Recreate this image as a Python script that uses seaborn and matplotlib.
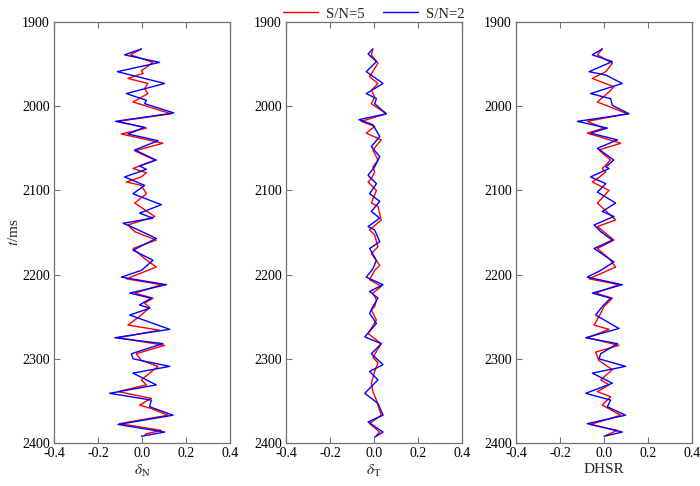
import numpy as np
import pandas as pd
import matplotlib
matplotlib.use("Agg")
import matplotlib.pyplot as plt
import seaborn as sns

# ---- data -------------------------------------------------------------
dn_b_t = [1932,1939,1948,1959,1973,1985,1993,1997,2008,2018,2025,2033,2041,2052,2064,2071,2075,2084,
          2094,2104,2117,2127,2133,2139,2145,2157,2171,2183,2195,2203,2212,2222,2228,2236,2240,
          2248,2265,2275,2282,2294,2300,2309,2317,2331,2341,2349,2357,2367,2378,2387,2392]
dn_b_v = [-0.003,-0.079,0.080,-0.112,0.103,-0.071,0.020,0.012,0.145,-0.121,0.012,-0.064,0.073,-0.033,0.065,-0.011,0.020,-0.079,
          0.012,-0.041,0.088,-0.011,0.050,-0.086,-0.033,0.065,-0.041,0.050,-0.003,-0.094,0.111,-0.056,0.042,-0.011,0.035,
          -0.056,0.126,-0.124,0.095,-0.048,-0.041,0.126,-0.041,0.065,-0.147,0.042,0.035,0.141,-0.109,0.103,-0.003]
dn_r_t = [1932,1939,1948,1958,1961,1967,1973,1979,1985,1995,2009,2018,2026,2033,2044,2053,2064,2074,2079,2084,
          2090,2094,2104,2115,2131,2141,2149,2159,2169,2181,2191,2205,2212,2222,2228,2234,2239,
          2248,2260,2266,2275,2284,2294,2302,2309,2325,2331,2339,2347,2355,2359,2367,2377,2385,2389,2391]
dn_r_v = [-0.003,-0.052,0.050,-0.003,0.005,-0.064,0.027,0.012,0.027,-0.041,0.133,-0.109,0.020,-0.094,0.095,-0.033,0.058,-0.041,0.020,-0.003,
          -0.071,-0.003,0.020,-0.033,0.058,-0.064,-0.033,0.065,-0.041,0.012,0.065,-0.071,0.088,-0.033,0.050,0.012,0.035,
          -0.003,-0.064,0.080,-0.109,0.103,-0.026,-0.003,0.073,-0.003,0.020,-0.109,0.042,-0.011,0.042,0.118,-0.102,0.088,0.020,0.012]

dt_b_t = [1932,1938,1947,1959,1973,1985,1991,1997,2009,2016,2022,2036,2048,2060,2072,2082,
          2092,2104,2113,2125,2133,2143,2147,2161,2169,2183,2193,2203,2212,2220,2228,2238,
          2246,2258,2274,2282,2294,2307,2315,2325,2341,2353,2367,2375,2387,2393]
dt_b_v = [-0.005,-0.027,0.011,-0.035,0.041,-0.035,0.011,0.003,0.056,-0.068,-0.005,0.026,-0.012,0.026,0.003,-0.027,
          0.011,-0.020,0.026,-0.012,0.026,-0.027,0.003,0.026,-0.020,0.011,-0.005,-0.035,0.041,-0.020,0.018,-0.005,
          -0.020,0.011,-0.042,0.033,-0.012,0.041,-0.020,0.018,-0.042,0.018,0.041,-0.027,0.041,0.003]
dt_r_t = [1932,1939,1949,1965,1973,1981,1989,1997,2009,2018,2024,2032,2040,2052,2064,2072,2078,2086,
          2090,2100,2115,2119,2135,2147,2153,2167,2175,2189,2195,2206,2214,2222,2230,2238,
          2242,2254,2270,2282,2298,2305,2315,2329,2339,2349,2367,2377,2387,2391]
dt_r_v = [-0.005,-0.012,0.018,-0.020,0.018,-0.012,0.003,-0.012,0.056,-0.058,0.003,-0.035,0.033,-0.005,0.018,-0.005,0.003,-0.012,
          -0.027,0.011,-0.012,0.018,0.033,-0.020,0.003,0.018,-0.012,0.026,0.003,-0.020,0.033,-0.005,0.011,0.003,
          -0.012,0.011,-0.027,0.033,-0.005,0.018,0.003,-0.012,-0.005,0.011,0.033,-0.020,0.026,0.011]

dh_b_t = [1932,1939,1947,1959,1963,1973,1985,1991,1999,2009,2018,2026,2032,2040,2050,2064,2072,2074,2084,
          2092,2102,2115,2125,2131,2141,2149,2159,2169,2177,2185,2195,2203,2212,2222,2228,2238,
          2248,2264,2275,2282,2294,2300,2309,2317,2329,2341,2349,2357,2367,2377,2387,2392]
dh_b_v = [-0.008,-0.053,0.038,-0.068,0.008,0.083,-0.061,0.030,0.038,0.114,-0.121,0.015,-0.061,0.061,-0.030,0.045,0.008,0.023,-0.061,
          0.008,-0.030,0.053,-0.008,0.045,-0.045,-0.015,0.038,-0.045,0.000,0.045,-0.015,-0.076,0.083,-0.053,0.030,-0.008,
          -0.038,0.068,-0.083,0.061,-0.015,-0.023,0.098,-0.053,0.038,-0.083,0.030,0.015,0.098,-0.076,0.083,0.000]
dh_r_t = [1932,1939,1949,1959,1967,1977,1983,1995,2009,2018,2026,2032,2044,2052,2064,2074,2078,2086,
          2090,2100,2115,2135,2143,2159,2169,2181,2191,2205,2212,2222,2228,2238,
          2246,2260,2265,2275,2284,2292,2302,2313,2325,2331,2339,2345,2355,2367,2378,2385,2391]
dh_r_v = [-0.008,-0.030,0.038,0.008,-0.053,0.045,0.023,-0.030,0.106,-0.076,0.000,-0.076,0.076,-0.023,0.030,-0.008,0.008,-0.030,
          -0.053,0.023,-0.030,0.053,-0.030,0.045,-0.030,0.023,0.053,-0.068,0.068,-0.038,0.038,0.000,
          -0.015,-0.045,0.023,-0.076,0.068,-0.038,-0.023,0.038,-0.015,0.023,-0.030,0.030,-0.008,0.076,-0.061,0.061,0.008]

series_labels = ["S/N=5", "S/N=2"]
x_labels = [r"$\delta_{\rm N}$", r"$\delta_{\rm T}$", "DHSR"]
x_ticks = [-0.4, -0.2, 0.0, 0.2, 0.4]
y_ticks = [1900, 2000, 2100, 2200, 2300, 2400]

# ---- style ------------------------------------------------------------
sns.set_theme(style="ticks")
plt.rcParams["font.family"] = ["Liberation Serif", "DejaVu Serif"]
plt.rcParams["mathtext.fontset"] = "stix"
plt.rcParams["axes.edgecolor"] = "#707070"
plt.rcParams["xtick.color"] = "#707070"
plt.rcParams["ytick.color"] = "#707070"
plt.rcParams["xtick.labelcolor"] = "black"
plt.rcParams["ytick.labelcolor"] = "black"

fig = plt.figure(figsize=(7.0, 4.86), dpi=100)
lefts = [54/700, 286/700, 516/700]
bottom = 1 - 443/486
height = (443 - 22)/486
width = 176/700

panels = [
    (dn_r_t, dn_r_v, dn_b_t, dn_b_v),
    (dt_r_t, dt_r_v, dt_b_t, dt_b_v),
    (dh_r_t, dh_r_v, dh_b_t, dh_b_v),
]

axes = []
for i, (rt, rv, bt, bv) in enumerate(panels):
    ax = fig.add_axes([lefts[i], bottom, width, height])
    df = pd.concat([
        pd.DataFrame({"t": rt, "v": rv, "s": series_labels[0]}),
        pd.DataFrame({"t": bt, "v": bv, "s": series_labels[1]}),
    ])
    sns.lineplot(data=df, x="v", y="t", hue="s", orient="y", sort=False,
                 estimator=None, palette={series_labels[0]: "#ff0000", series_labels[1]: "#0000ff"},
                 linewidth=1.0, ax=ax, legend=(i == 1))
    ax.set_xlim(-0.4, 0.4)
    ax.set_ylim(2400, 1900)
    ax.set_xticks(x_ticks)
    ax.set_xticklabels([f"{v:.1f}" for v in x_ticks])
    ax.set_yticks(y_ticks)
    ax.tick_params(direction="in", top=True, right=False, length=4, width=0.8,
                   labelsize=10, pad=3)
    for sp in ax.spines.values():
        sp.set_linewidth(0.9)
    ax.set_xlabel(x_labels[i], fontsize=11, labelpad=2)
    ax.set_ylabel("")
    axes.append(ax)

axes[0].set_ylabel(r"$t$/ms", fontsize=11, labelpad=1)

leg = axes[1].get_legend()
handles = leg.legend_handles
leg.remove()
fig.legend(handles, series_labels, loc="upper center", bbox_to_anchor=(0.534, 1.012),
           ncol=2, frameon=False, fontsize=10.5, handlelength=2.4, columnspacing=1.3,
           handletextpad=0.5)

fig.savefig("out.png", dpi=100)
